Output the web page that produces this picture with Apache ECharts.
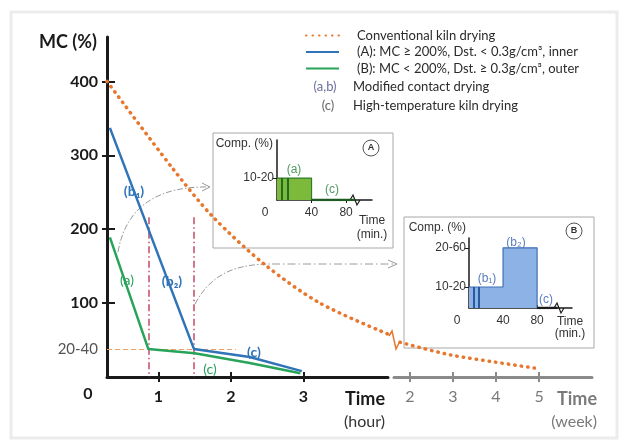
<!DOCTYPE html>
<html>
<head>
<meta charset="utf-8">
<script src="https://cdn.jsdelivr.net/npm/echarts@6/dist/echarts.min.js"></script>
<style>
html, body { margin: 0; padding: 0; background: #fff; }
#chart { width: 628px; height: 442px; }
</style>
</head>
<body>
<div id="chart"></div>
<script>
// MC (%) vs time, main panel in hours, right panel in weeks
const kilnHourT = [0.29, 1.19, 1.75, 2.47, 3.23, 4.17]
const kilnHourMC = [400, 283, 217, 152, 100, 58]
const kilnWeekT = [1.77, 2.93, 4.0, 5.02]
const kilnWeekMC = [47, 30, 20, 11]
const innerT = [0.33, 1.49, 2.26, 2.98]
const innerMC = [337, 38, 27, 8]
const outerT = [0.33, 0.86, 1.5, 2.26, 2.96]
const outerMC = [189, 38, 32, 19, 5]
const phaseEnds = [0.86, 1.49]   // red dash-dot lines (hour)
const phaseTop = 216
const targetMC = 38              // "20-40" level
const targetEnd = 2.07

// tick labels
const mcTicks = [100, 200, 300, 400]
const hourTicks = [1, 2, 3]
const weekTicks = [2, 3, 4, 5]

// compression schedules (time in min., comp. level)
const compAT = [0, 40, 40]
const compAV = [15, 15, 0]
const compBT = [0, 40, 40, 80, 80]
const compBV = [15, 15, 43, 43, 0]
const pulseT = [6, 12]
const compTicks = [40, 80]
const compLevelsA = {15: '10-20'}
const compLevelsB = {15: '10-20', 43: '20-60'}
const stageCA = [40, 90]
const stageCB = [80, 104]

const zip = (a, b) => a.map((v, i) => [v, b[i]])

const chart = echarts.init(document.getElementById('chart'), null, {renderer: 'canvas'})

const mainFont = 'Lato'
const insetFont = 'Liberation Sans'
const orange = '#E8772E'
const blue = '#2F74B8'
const green = '#27A35A'
const dark = '#1a1a1a'
const greyAxis = '#8a8a8a'

function tickAxis (grid, min, max, ticks, len, color, dim) { // 坐标轴内侧刻度
    return {
        type: 'value', gridIndex: grid, min: min, max: max,
        position: dim === 'x' ? 'bottom' : 'left',
        axisLine: {show: false}, axisLabel: {show: false}, splitLine: {show: false},
        axisTick: {inside: true, length: len, customValues: ticks, lineStyle: {color: color, width: 2}}
    }
}

const option = {
    animation: false,
    backgroundColor: '#fff',
    grid: [
        {left: 107, top: 37, width: 281, height: 340, outerBoundsMode: 'none'},
        {left: 394, top: 37, width: 198, height: 340, outerBoundsMode: 'none'},
        {left: 277, top: 140, width: 95, height: 60, outerBoundsMode: 'none'},
        {left: 469, top: 238, width: 103, height: 70, outerBoundsMode: 'none'}
    ],
    legend: {
        orient: 'vertical', left: 300, top: 24,
        itemWidth: 33, itemHeight: 14, itemGap: 3.5,
        itemStyle: {opacity: 0},
        data: ['Conventional kiln drying', '(A): MC ≥ 200%, Dst. < 0.3g/cm³, inner', '(B): MC < 200%, Dst. ≥ 0.3g/cm³, outer'],
        textStyle: {fontFamily: mainFont, fontSize: 13, color: '#2b2b2b', padding: [0, 0, 0, 13]},
        selectedMode: false
    },
    xAxis: [
        { // hours
            type: 'value', gridIndex: 0, min: 0.29, max: 4.17,
            name: '{t|Time}\n{u|(hour)}', nameLocation: 'end', nameGap: -3,
            nameTextStyle: {align: 'right', verticalAlign: 'top', padding: [12, 0, 0, 0],
                rich: {t: {fontFamily: mainFont, fontSize: 18, fontWeight: 'bold', color: dark, lineHeight: 20},
                       u: {fontFamily: mainFont, fontSize: 16, color: '#333', lineHeight: 26}}},
            axisLine: {lineStyle: {color: dark, width: 3}},
            axisTick: {length: 5, customValues: hourTicks, lineStyle: {color: dark, width: 2}},
            axisLabel: {customValues: hourTicks, margin: 12, fontFamily: mainFont, fontSize: 16, fontWeight: 'bold', color: dark},
            splitLine: {show: false}
        },
        tickAxis(0, 0.29, 4.17, hourTicks, 5, dark, 'x'),
        { // weeks
            type: 'value', gridIndex: 1, min: 1.63, max: 6.23,
            name: '{t|Time}\n{u|(week)}', nameLocation: 'end', nameGap: 5,
            nameTextStyle: {align: 'right', verticalAlign: 'top', padding: [12, 0, 0, 0],
                rich: {t: {fontFamily: mainFont, fontSize: 18, fontWeight: 'bold', color: '#7a7a7a', lineHeight: 20},
                       u: {fontFamily: mainFont, fontSize: 16, color: '#7a7a7a', lineHeight: 26, align: 'right'}}},
            axisLine: {lineStyle: {color: greyAxis, width: 3}},
            axisTick: {length: 5, customValues: weekTicks, lineStyle: {color: greyAxis, width: 2}},
            axisLabel: {customValues: weekTicks, margin: 12, fontFamily: mainFont, fontSize: 16, color: '#7a7a7a'},
            splitLine: {show: false}
        },
        tickAxis(1, 1.63, 6.23, weekTicks, 5, greyAxis, 'x'),
        { // inset A
            type: 'value', gridIndex: 2, min: 0, max: 110,
            name: '{t|Time}\n{t|(min.)}', nameLocation: 'end', nameGap: -4,
            nameTextStyle: {align: 'center', verticalAlign: 'top', padding: [14, 0, 0, 0],
                rich: {t: {fontFamily: insetFont, fontSize: 12, color: '#333', lineHeight: 14, align: 'center'}}},
            axisLine: {lineStyle: {color: dark, width: 1.5}},
            axisTick: {length: 3, customValues: compTicks, lineStyle: {color: dark}},
            axisLabel: {customValues: compTicks, margin: 7, fontFamily: insetFont, fontSize: 12, color: '#333'},
            splitLine: {show: false}
        },
        { // inset B
            type: 'value', gridIndex: 3, min: 0, max: 121,
            name: '{t|Time}\n{t|(min.)}', nameLocation: 'end', nameGap: -2,
            nameTextStyle: {align: 'center', verticalAlign: 'top', padding: [8, 0, 0, 0],
                rich: {t: {fontFamily: insetFont, fontSize: 12, color: '#333', lineHeight: 12, align: 'center'}}},
            axisLine: {lineStyle: {color: dark, width: 1.5}},
            axisTick: {length: 3, inside: true, customValues: compTicks, lineStyle: {color: dark}},
            axisLabel: {customValues: compTicks, margin: 7, fontFamily: insetFont, fontSize: 12, color: '#333'},
            splitLine: {show: false}
        }
    ],
    yAxis: [
        { // MC (%)
            type: 'value', gridIndex: 0, min: 0, max: 460,
            name: 'MC (%)', nameLocation: 'end', nameGap: -5,
            nameTextStyle: {align: 'right', verticalAlign: 'middle', padding: [0, 10, 0, 0],
                fontFamily: mainFont, fontSize: 18, fontWeight: 'bold', color: dark},
            axisLine: {lineStyle: {color: dark, width: 3}},
            axisTick: {length: 5, customValues: mcTicks, lineStyle: {color: dark, width: 2}},
            axisLabel: {
                customValues: [targetMC].concat(mcTicks), margin: 9,
                formatter: v => v === targetMC ? '{g|20-40}' : '{b|' + v + '}',
                rich: {b: {fontFamily: mainFont, fontSize: 16, fontWeight: 'bold', color: dark},
                       g: {fontFamily: mainFont, fontSize: 15, color: '#555'}}
            },
            splitLine: {show: false}
        },
        tickAxis(0, 0, 460, mcTicks, 8, dark, 'y'),
        {type: 'value', gridIndex: 1, min: 0, max: 460, show: false},
        { // inset A
            type: 'value', gridIndex: 2, min: 0, max: 41,
            name: 'Comp. (%)', nameLocation: 'end', nameGap: -4,
            nameTextStyle: {align: 'right', verticalAlign: 'middle', padding: [0, 4, 0, 0], fontFamily: insetFont, fontSize: 12, color: '#333'},
            axisLine: {lineStyle: {color: dark, width: 1.5}},
            axisTick: {length: 4, customValues: [15], lineStyle: {color: dark}},
            axisLabel: {customValues: [15], margin: 3, formatter: v => compLevelsA[v], fontFamily: insetFont, fontSize: 12, color: '#333'},
            splitLine: {show: false}
        },
        { // inset B
            type: 'value', gridIndex: 3, min: 0, max: 50,
            name: 'Comp. (%)', nameLocation: 'end', nameGap: 10,
            nameTextStyle: {align: 'right', verticalAlign: 'middle', padding: [0, 3, 0, 0], fontFamily: insetFont, fontSize: 12, color: '#333'},
            axisLine: {lineStyle: {color: dark, width: 1.5}},
            axisTick: {length: 4, customValues: [15, 43], lineStyle: {color: dark}},
            axisLabel: {customValues: [15, 43], margin: 3, formatter: v => compLevelsB[v], fontFamily: insetFont, fontSize: 12, color: '#333'},
            splitLine: {show: false}
        }
    ],
    series: [
        {
            name: 'Conventional kiln drying', type: 'line', xAxisIndex: 0, yAxisIndex: 0,
            data: zip(kilnHourT, kilnHourMC), smooth: 0.3, symbol: 'none', z: 4,
            lineStyle: {color: orange, width: 3.5, type: [0.5, 6], cap: 'round'},
            itemStyle: {color: orange}
        },
        {
            name: 'Conventional kiln drying', type: 'line', xAxisIndex: 2, yAxisIndex: 2,
            data: zip(kilnWeekT, kilnWeekMC), smooth: 0.3, symbol: 'none', z: 4,
            lineStyle: {color: orange, width: 3.5, type: [0.5, 6], cap: 'round'},
            itemStyle: {color: orange}
        },
        {
            name: '(A): MC ≥ 200%, Dst. < 0.3g/cm³, inner', type: 'line', xAxisIndex: 0, yAxisIndex: 0,
            data: zip(innerT, innerMC), symbol: 'none', z: 5,
            lineStyle: {color: blue, width: 2.5}, itemStyle: {color: blue},
            markLine: {
                silent: true, symbol: 'none', label: {show: false},
                data: phaseEnds.map(t => [
                    {coord: [t, phaseTop], lineStyle: {color: '#C24A66', width: 1.5, type: [7, 3, 1.5, 3]}},
                    {coord: [t, 0]}
                ]).concat([[
                    {coord: [0.29, targetMC], lineStyle: {color: '#F0A060', width: 1.2, type: [5, 3]}},
                    {coord: [targetEnd, targetMC]}
                ]])
            }
        },
        {
            name: '(B): MC < 200%, Dst. ≥ 0.3g/cm³, outer', type: 'line', xAxisIndex: 0, yAxisIndex: 0,
            data: zip(outerT, outerMC), symbol: 'none', z: 5,
            lineStyle: {color: green, width: 2.5}, itemStyle: {color: green}
        },
        { // inset A fill
            type: 'line', xAxisIndex: 4, yAxisIndex: 3, data: zip(compAT, compAV), symbol: 'none',
            lineStyle: {color: '#2E7D2A', width: 1.2}, areaStyle: {color: '#7DBA3C', opacity: 1},
            markLine: {
                silent: true, symbol: 'none', label: {show: false},
                lineStyle: {color: '#1F6B22', width: 2, type: 'solid'},
                data: pulseT.map(t => [{coord: [t, 0]}, {coord: [t, 15]}])
            }
        },
        {
            type: 'line', xAxisIndex: 4, yAxisIndex: 3, data: stageCA.map(t => [t, 0]), symbol: 'none', z: 3,
            lineStyle: {color: '#1F5A22', width: 2.5}
        },
        { // inset B fill
            type: 'line', xAxisIndex: 5, yAxisIndex: 4, data: zip(compBT, compBV), symbol: 'none',
            lineStyle: {color: '#3E6FB5', width: 1.2}, areaStyle: {color: '#8DB3E6', opacity: 1},
            markLine: {
                silent: true, symbol: 'none', label: {show: false},
                lineStyle: {color: '#2A5A9E', width: 2, type: 'solid'},
                data: pulseT.map(t => [{coord: [t, 0]}, {coord: [t, 15]}])
            }
        },
        {
            type: 'line', xAxisIndex: 5, yAxisIndex: 4, data: stageCB.map(t => [t, 0]), symbol: 'none', z: 3,
            lineStyle: {color: '#1a1a1a', width: 2.5}
        }
    ],
    graphic: [
        // outer frame
        {type: 'rect', shape: {x: 11, y: 12, width: 606, height: 426}, style: {fill: null, stroke: '#ececec', lineWidth: 3}, silent: true},
        // inset boxes
        {type: 'rect', shape: {x: 213, y: 133, width: 180, height: 115}, style: {fill: null, stroke: '#a8a8a8', lineWidth: 1}},
        {type: 'rect', shape: {x: 404, y: 217, width: 190, height: 131}, style: {fill: null, stroke: '#a8a8a8', lineWidth: 1}},
        {type: 'circle', shape: {cx: 371, cy: 148, r: 8}, style: {fill: '#fff', stroke: '#555', lineWidth: 1}},
        {type: 'text', x: 371, y: 148, style: {text: 'A', fontFamily: insetFont, fontSize: 9, fontWeight: 'bold', fill: '#333', align: 'center', verticalAlign: 'middle'}},
        {type: 'circle', shape: {cx: 574, cy: 231, r: 8}, style: {fill: '#fff', stroke: '#555', lineWidth: 1}},
        {type: 'text', x: 574, y: 231, style: {text: 'B', fontFamily: insetFont, fontSize: 9, fontWeight: 'bold', fill: '#333', align: 'center', verticalAlign: 'middle'}},
        // origin labels
        {type: 'text', x: 88, y: 394, style: {text: '0', fontFamily: mainFont, fontSize: 16, fontWeight: 'bold', fill: dark, align: 'center', verticalAlign: 'middle'}},
        {type: 'text', x: 265, y: 213, style: {text: '0', fontFamily: insetFont, fontSize: 12, fill: '#333', align: 'center', verticalAlign: 'middle'}},
        {type: 'text', x: 457, y: 321, style: {text: '0', fontFamily: insetFont, fontSize: 12, fill: '#333', align: 'center', verticalAlign: 'middle'}},
        // stage labels, main
        {type: 'text', x: 134, y: 191, style: {text: '(b₁)', fontFamily: mainFont, fontSize: 14, fontWeight: 'bold', fill: blue, align: 'center', verticalAlign: 'middle'}},
        {type: 'text', x: 127, y: 280, style: {text: '(a)', fontFamily: mainFont, fontSize: 14, fill: green, align: 'center', verticalAlign: 'middle'}},
        {type: 'text', x: 172, y: 281, style: {text: '(b₂)', fontFamily: mainFont, fontSize: 14, fontWeight: 'bold', fill: blue, align: 'center', verticalAlign: 'middle'}},
        {type: 'text', x: 254, y: 352, style: {text: '(c)', fontFamily: mainFont, fontSize: 14, fontWeight: 'bold', fill: blue, align: 'center', verticalAlign: 'middle'}},
        {type: 'text', x: 210, y: 369, style: {text: '(c)', fontFamily: mainFont, fontSize: 14, fill: green, align: 'center', verticalAlign: 'middle'}},
        // stage labels, insets
        {type: 'text', x: 294, y: 170, style: {text: '(a)', fontFamily: insetFont, fontSize: 12, fill: '#4E9A5E', align: 'center', verticalAlign: 'middle'}},
        {type: 'text', x: 332, y: 190, style: {text: '(c)', fontFamily: insetFont, fontSize: 12, fill: '#4E9A5E', align: 'center', verticalAlign: 'middle'}},
        {type: 'text', x: 487, y: 279, style: {text: '(b₁)', fontFamily: insetFont, fontSize: 12, fill: '#5A7CC0', align: 'center', verticalAlign: 'middle'}},
        {type: 'text', x: 516, y: 243, style: {text: '(b₂)', fontFamily: insetFont, fontSize: 12, fill: '#5A7CC0', align: 'center', verticalAlign: 'middle'}},
        {type: 'text', x: 546, y: 300, style: {text: '(c)', fontFamily: insetFont, fontSize: 12, fill: '#5A7CC0', align: 'center', verticalAlign: 'middle'}},
        // legend extras
        {type: 'text', x: 325, y: 87, style: {text: '(a,b)', fontFamily: mainFont, fontSize: 13, fill: '#6B6F9A', align: 'center', verticalAlign: 'middle'}},
        {type: 'text', x: 328, y: 106, style: {text: '(c)', fontFamily: mainFont, fontSize: 13, fill: '#666', align: 'center', verticalAlign: 'middle'}},
        {type: 'text', x: 353, y: 87, style: {text: 'Modified contact drying', fontFamily: mainFont, fontSize: 13, fill: '#2b2b2b', verticalAlign: 'middle'}},
        {type: 'text', x: 353, y: 106, style: {text: 'High-temperature kiln drying', fontFamily: mainFont, fontSize: 13, fill: '#2b2b2b', verticalAlign: 'middle'}},
        // break marks
        {type: 'polyline', shape: {points: [[389, 336], [392, 331], [396, 349], [400, 341]]}, style: {stroke: orange, lineWidth: 1.5, fill: null}},
        {type: 'polyline', shape: {points: [[350, 200], [353, 195], [357, 205], [360, 200]]}, style: {stroke: dark, lineWidth: 1.2, fill: null}},
        {type: 'polyline', shape: {points: [[554, 308], [557, 303], [561, 313], [564, 308]]}, style: {stroke: dark, lineWidth: 1.2, fill: null}},
        // curved pointer arrows
        {type: 'bezierCurve', shape: {x1: 118, y1: 252, cpx1: 126, cpy1: 205, cpx2: 160, cpy2: 186, x2: 209, y2: 187},
            style: {stroke: '#9a9a9a', lineWidth: 1, lineDash: [6, 2, 1.5, 2], fill: null}},
        {type: 'polyline', shape: {points: [[202, 183], [210, 187], [202, 191]]}, style: {stroke: '#9a9a9a', lineWidth: 1, fill: null}},
        {type: 'bezierCurve', shape: {x1: 195, y1: 304, cpx1: 212, cpy1: 272, cpx2: 238, cpy2: 264, x2: 272, y2: 264},
            style: {stroke: '#9a9a9a', lineWidth: 1, lineDash: [6, 2, 1.5, 2], fill: null}},
        {type: 'line', shape: {x1: 272, y1: 264, x2: 396, y2: 264}, style: {stroke: '#9a9a9a', lineWidth: 1, lineDash: [8, 3, 1.5, 3]}},
        {type: 'polyline', shape: {points: [[388, 260], [397, 264], [388, 268]]}, style: {stroke: '#9a9a9a', lineWidth: 1, fill: null}}
    ]
}

chart.setOption(option)
</script>
</body>
</html>
